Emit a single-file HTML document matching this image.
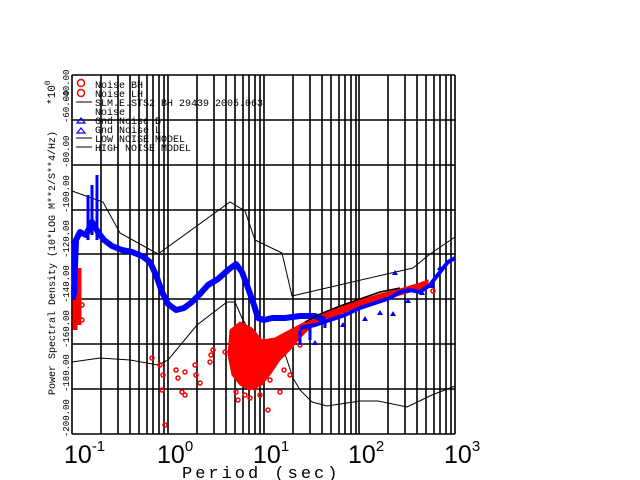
<!DOCTYPE html>
<html><head><meta charset="utf-8"><style>
body{margin:0;background:#fff;}
svg{display:block;font-family:"Liberation Mono",monospace;}
</style></head><body>
<svg width="640" height="480" viewBox="0 0 640 480" xmlns="http://www.w3.org/2000/svg">
<rect width="640" height="480" fill="#fff"/>
<g stroke="#000" stroke-width="1.6" fill="none">
<path d="M72 75H455M72 120H455M72 165H455M72 210H455M72 254H455M72 299H455M72 344H455M72 389H455M72 434H455"/>
<path d="M72 75V434M101 75V434M118 75V434M130 75V434M139 75V434M147 75V434M153 75V434M159 75V434M164 75V434M168 75V434
M197 75V434M214 75V434M226 75V434M235 75V434M243 75V434M249 75V434M255 75V434M260 75V434M264 75V434
M293 75V434M310 75V434M322 75V434M331 75V434M339 75V434M345 75V434M351 75V434M356 75V434M359 75V434
M388 75V434M405 75V434M417 75V434M426 75V434M434 75V434M440 75V434M446 75V434M451 75V434M455 75V434"/>
</g>
<g stroke="#000" stroke-width="1" fill="none">
<polyline points="72,191 103,202 120,233 158,254 230,202 245,211 255,240 282,253 292,296 413,268 430,254 455,237"/>
<polyline points="72,362 100,358 130,360 158,365 168,360 197,325 227,302 235,302 242,318 250,332 270,358 283,348 293,378 300,390 312,402 327,406 360,401 378,401 407,407 432,395 455,386"/>
</g>
<!-- red -->
<g stroke="#f00" fill="none">
<path d="M75 270V330M79 268V325" stroke-width="5"/>
<polygon fill="#f00" stroke-width="1" points="230,330 240,322 252,328 262,340 275,338 290,330 305,322 320,314 340,306 360,300 380,294 400,289 420,283 428,280 428,287 410,292 390,298 370,304 350,310 330,318 310,328 300,338 290,350 280,360 272,372 262,385 250,390 240,385 232,375 228,355"/>
<g stroke-width="1.5">
<circle cx="152" cy="358" r="2"/><circle cx="160" cy="365" r="2"/><circle cx="163" cy="375" r="2"/><circle cx="162" cy="390" r="2"/>
<circle cx="176" cy="370" r="2"/><circle cx="178" cy="378" r="2"/><circle cx="182" cy="392" r="2"/><circle cx="185" cy="372" r="2"/>
<circle cx="195" cy="365" r="2"/><circle cx="196" cy="375" r="2"/><circle cx="200" cy="383" r="2"/><circle cx="211" cy="355" r="2"/>
<circle cx="213" cy="350" r="2"/><circle cx="210" cy="362" r="2"/><circle cx="165" cy="425" r="2"/><circle cx="185" cy="395" r="2"/>
<circle cx="238" cy="400" r="2"/><circle cx="250" cy="398" r="2"/><circle cx="268" cy="410" r="2"/><circle cx="280" cy="392" r="2"/>
<circle cx="290" cy="375" r="2"/><circle cx="225" cy="352" r="2"/><circle cx="300" cy="345" r="2"/><circle cx="433" cy="291" r="2"/>
<circle cx="82" cy="305" r="2"/><circle cx="82" cy="320" r="2"/><circle cx="236" cy="392" r="2"/><circle cx="260" cy="395" r="2"/>
<circle cx="245" cy="395" r="2"/><circle cx="270" cy="380" r="2"/><circle cx="284" cy="370" r="2"/><circle cx="255" cy="388" r="2"/>
</g>
</g>
<!-- blue -->
<g stroke="#00f" fill="none" stroke-linejoin="round">
<polyline stroke-width="6" points="74,295 76,240 80,232 86,235 92,222 98,232 104,240 112,246 122,250 132,252 142,256 150,262 156,275 162,292 168,304 176,310 184,308 192,302 200,294 208,285 218,279 228,270 236,264 242,272 248,288 254,305 258,318 264,320 272,318 285,318 300,316 315,316 325,320"/>
<path d="M74 240V300" stroke-width="4"/>
<path d="M92 235V185M97 240V175M88 240V195" stroke-width="3"/>
<polyline stroke-width="4" points="300,328 315,325 330,320 345,315 360,308 375,303 390,298 400,292 410,290 420,292 430,285 440,272 448,262 455,258"/>
<path d="M300 330V345M310 325V340M325 320V328" stroke-width="3"/>
<g fill="#00f" stroke="none">
<path d="M343 322l3 5h-6z M365 316l3 5h-6z M380 310l3 5h-6z M393 311l3 5h-6z M408 298l3 5h-6z M422 290l3 5h-6z M395 270l3 5h-6z M440 265l3 5h-6z M432 283l3 5h-6z M315 340l3 5h-6z"/>
</g>
</g>
<g stroke="#000" stroke-width="1.5">
<polyline fill="none" points="305,322 320,314 340,306 360,299 380,292 400,288"/>
</g>
<!-- legend -->
<g font-size="10" fill="#000">
<g stroke="#f00" fill="none" stroke-width="1.5"><circle cx="81" cy="83" r="3.5"/><circle cx="81" cy="93" r="3.5"/></g>
<g stroke="#00f" fill="none" stroke-width="1.2"><path d="M81 118l4 5h-8z M81 128l4 5h-8z"/></g>
<path d="M76 102H92M76 138H92M76 147H92" stroke="#000"/>
<text x="95" y="88">Noise BH</text>
<text x="95" y="97">Noise LH</text>
<text x="95" y="106">SLM.E.STS2 BH 29439 2005.063</text>
<text x="95" y="115">Noise</text>
<text x="95" y="124">Gnd Noise B</text>
<text x="95" y="133">Gnd Noise L</text>
<text x="95" y="142">LOW NOISE MODEL</text>
<text x="95" y="151">HIGH NOISE MODEL</text>
</g>
<!-- y tick labels -->
<g font-size="9" fill="#000">
<text transform="translate(69,437) rotate(-90)">-200.00</text>
<text transform="translate(69,392) rotate(-90)">-180.00</text>
<text transform="translate(69,348) rotate(-90)">-160.00</text>
<text transform="translate(69,303) rotate(-90)">-140.00</text>
<text transform="translate(69,258) rotate(-90)">-120.00</text>
<text transform="translate(69,213) rotate(-90)">-100.00</text>
<text transform="translate(69,168) rotate(-90)">-80.00</text>
<text transform="translate(69,123) rotate(-90)">-60.00</text>
<text transform="translate(69,102) rotate(-90)">-40.00</text>
</g>
<text transform="translate(55,395) rotate(-90)" font-size="10" fill="#000">Power Spectral Density (10*LOG M**2/S**4/Hz)</text>
<text transform="translate(55,105) rotate(-90)" font-size="11" fill="#000">*10<tspan dy="-5" font-size="8">0</tspan></text>
<!-- x labels -->
<g font-size="25" fill="#000" font-family="Liberation Sans,sans-serif">
<text x="64" y="463">10<tspan dy="-12" font-size="15">-1</tspan></text>
<text x="157" y="463">10<tspan dy="-12" font-size="15">0</tspan></text>
<text x="253" y="463">10<tspan dy="-12" font-size="15">1</tspan></text>
<text x="348" y="463">10<tspan dy="-12" font-size="15">2</tspan></text>
<text x="444" y="463">10<tspan dy="-12" font-size="15">3</tspan></text>
</g>
<text x="182" y="478" font-size="17" letter-spacing="3" fill="#000">Period (sec)</text>
</svg>
</body></html>
